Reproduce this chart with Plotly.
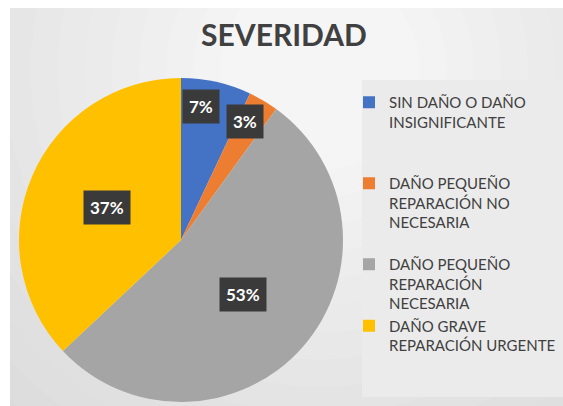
import math
import plotly.graph_objects as go

# ---- data ----
categories = [
    "SIN DAÑO O DAÑO INSIGNIFICANTE",
    "DAÑO PEQUEÑO REPARACIÓN NO NECESARIA",
    "DAÑO PEQUEÑO REPARACIÓN NECESARIA",
    "DAÑO GRAVE REPARACIÓN URGENTE",
]
legend_labels = [
    "SIN DAÑO O DAÑO<br>INSIGNIFICANTE<br> <br> ",
    "DAÑO PEQUEÑO<br>REPARACIÓN NO<br>NECESARIA<br> ",
    "DAÑO PEQUEÑO<br>REPARACIÓN<br>NECESARIA",
    "DAÑO GRAVE<br>REPARACIÓN URGENTE",
]
values = [7, 3, 53, 37]
colors = ["#4472C4", "#ED7D31", "#A5A5A5", "#FFC000"]
title_text = "SEVERIDAD"

# ---- layout geometry ----
W, H = 563, 406
dom_x = [19 / W, 343 / W]
dom_y = [4 / H, 328 / H]
label_radius_frac = [0.836, 0.83, 0.51, 0.50]
label_angle_shift = [-4.1, -2.1, 0.0, 0.0]

fig = go.Figure()
fig.add_trace(go.Pie(
    labels=legend_labels,
    values=values,
    hovertext=categories,
    hoverinfo="text+percent",
    marker=dict(colors=colors, line=dict(width=0)),
    sort=False,
    direction="clockwise",
    rotation=0,
    textinfo="none",
    domain=dict(x=dom_x, y=dom_y),
))

# data labels as boxed annotations, placed from the slice angles
total = sum(values)
cx = (dom_x[0] + dom_x[1]) / 2 * W
cy = H - (dom_y[0] + dom_y[1]) / 2 * H
r_px = min((dom_x[1] - dom_x[0]) * W, (dom_y[1] - dom_y[0]) * H) / 2
annotations = []
cum = 0.0
for v, frac, sh in zip(values, label_radius_frac, label_angle_shift):
    mid = (cum + v / 2) / total * 2 * math.pi + math.radians(sh)
    cum += v
    px = cx + frac * r_px * math.sin(mid)
    py = cy - frac * r_px * math.cos(mid)
    annotations.append(dict(
        x=px / W, y=1 - py / H, xref="paper", yref="paper",
        text=f"<b>{round(v / total * 100)}%</b>", showarrow=False,
        font=dict(family="Lato", size=17, color="white"),
        bgcolor="#3a3a3a", borderpad=6,
        xanchor="center", yanchor="middle",
    ))

# background: radial-ish gradient approximation
shapes = []
gcx, gcy = 320, 70
steps = 18
for i in range(steps):
    t = i / (steps - 1)
    rad = 560 - t * 460
    c0, c1 = 0xD6, 0xF5
    c = int(c0 + (c1 - c0) * t)
    col = f"#{c:02x}{c:02x}{c:02x}"
    shapes.append(dict(
        type="circle", xref="paper", yref="paper", layer="below",
        x0=(gcx - rad) / W, x1=(gcx + rad) / W,
        y0=1 - (gcy + rad) / H, y1=1 - (gcy - rad) / H,
        fillcolor=col, line=dict(width=0),
    ))
# white page margins around the chart area
shapes.append(dict(type="rect", xref="paper", yref="paper", layer="below",
                   x0=0, x1=10 / W, y0=0, y1=1, fillcolor="white", line=dict(width=0)))
shapes.append(dict(type="rect", xref="paper", yref="paper", layer="below",
                   x0=0, x1=1, y0=1 - 8 / H, y1=1, fillcolor="white", line=dict(width=0)))
# legend panel
shapes.append(dict(type="rect", xref="paper", yref="paper", layer="below",
                   x0=362 / W, x1=1, y0=1 - 397 / H, y1=1 - 80 / H,
                   fillcolor="#ebebeb", line=dict(width=0)))

fig.update_layout(
    width=W, height=H,
    margin=dict(l=0, r=0, t=0, b=0, autoexpand=False),
    paper_bgcolor="white",
    plot_bgcolor="white",
    title=dict(text=f"<b>{title_text}</b>", x=284 / W, y=1 - 35 / H,
               xanchor="center", yanchor="middle",
               font=dict(family="Lato", size=30, color="#404040")),
    showlegend=True,
    legend=dict(
        x=349 / W, y=1 - 86 / H, xanchor="left", yanchor="top",
        bgcolor="rgba(0,0,0,0)",
        font=dict(family="Lato", size=15, color="#404040"),
        valign="top",
        tracegroupgap=0,
        itemwidth=30,
    ),
    annotations=annotations,
    shapes=shapes,
)

fig.write_html(
    "out.html", config={"displayModeBar": False},
    post_script=("document.body.style.margin='0px';"
                 "document.body.style.overflow='hidden';"
                 "document.documentElement.style.overflow='hidden';"),
)
